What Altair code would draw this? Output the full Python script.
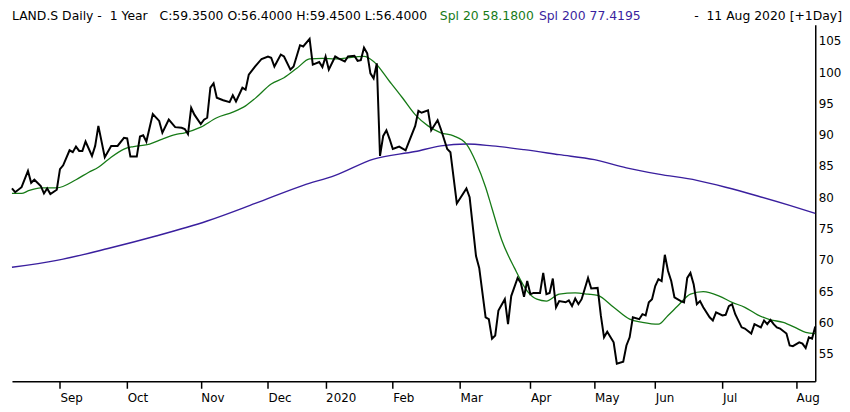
import altair as alt
import pandas as pd

# ---- data (trading-day index, value) ----
close_day = [0, 1, 3, 5, 6, 7, 9, 10, 11, 12, 14, 15, 16, 18, 19, 20, 21, 22, 23, 25, 26, 27, 29, 31, 33,
             35, 36, 37, 39, 40, 41, 42, 44, 46, 47, 49, 51, 53, 54, 55, 56, 57, 59, 60, 61, 62, 63, 64, 66,
             68, 69, 70, 72, 73, 74, 76, 78, 80, 81, 82, 84, 85, 87, 88, 90, 91, 93, 94, 96, 97, 98, 99, 101,
             102, 104, 105, 107, 108, 109, 110, 111, 112, 113, 114, 115, 116, 117, 118, 119, 121, 123, 124,
             126, 127, 128, 130, 131, 133, 134, 136, 137, 139, 140, 142, 143, 145, 146, 148, 149, 150, 151,
             152, 154, 155, 156, 158, 159, 160, 161, 162, 163, 165, 166, 167, 168, 169, 170, 171, 173, 174,
             175, 176, 177, 178, 180, 181, 183, 184, 185, 186, 188, 189, 191, 192, 193, 194, 196, 197, 198,
             199, 200, 201, 202, 203, 204, 205, 206, 207, 209, 210, 211, 212, 213, 214, 215, 216, 218, 219,
             220, 222, 223, 224, 225, 226, 228, 229, 231, 232, 234, 235, 236, 237, 238, 239, 240, 242, 243,
             244, 246, 247, 248, 249, 250, 251]
close_val = [81.4, 80.8, 81.6, 84.2, 82.3, 82.8, 81.8, 80.6, 81.4, 80.5, 81.2, 84.5, 85.1, 87.5, 87.2, 88.1,
             87.4, 87.4, 88.9, 86.6, 88.2, 91.4, 86.4, 88.2, 88.2, 89.5, 89.4, 86.5, 86.5, 89.7, 89.9, 88.9,
             93.3, 92.2, 90.3, 92.4, 91.2, 91.1, 90.9, 90.1, 94.3, 93.2, 91.7, 92.4, 92.7, 97.5, 98.2, 95.9,
             95.5, 95.2, 96.3, 95.3, 97.5, 97.2, 99.6, 100.9, 102.1, 102.5, 102.3, 100.9, 102.8, 102.5, 100.4,
             100.9, 104.3, 104.1, 105.3, 101.2, 101.6, 100.8, 102.5, 100.4, 102.5, 102.2, 101.7, 102.5, 102.6,
             101.8, 101.9, 103.9, 103.0, 99.8, 99.0, 101.4, 86.6, 89.8, 90.7, 89.3, 87.7, 88.1, 87.5, 88.8,
             91.4, 93.8, 93.5, 93.9, 90.7, 92.3, 90.9, 87.7, 87.2, 79.0, 79.8, 81.4, 80.0, 70.6, 68.7, 60.8,
             60.5, 57.4, 57.9, 61.9, 63.7, 59.7, 64.2, 67.1, 66.3, 64.1, 66.6, 64.5, 64.7, 64.7, 67.9, 64.5,
             64.7, 67.0, 62.4, 63.4, 63.2, 63.5, 62.6, 63.8, 62.9, 63.7, 67.1, 65.4, 65.5, 61.1, 57.6, 58.5,
             56.8, 53.4, 53.7, 56.3, 57.6, 60.8, 60.5, 61.3, 61.1, 63.2, 63.7, 65.8, 66.9, 66.6, 70.8, 68.2,
             66.6, 64.0, 63.4, 63.2, 67.1, 67.9, 66.1, 62.9, 63.4, 62.4, 60.8, 60.3, 61.6, 61.1, 61.2, 62.6,
             62.9, 61.3, 59.2, 59.0, 58.2, 59.7, 59.2, 60.3, 59.7, 60.4, 59.7, 59.2, 59.0, 58.2, 56.3, 56.2,
             56.8, 56.6, 55.9, 57.6, 57.4, 59.35]

spl20_day = [0, 3, 5, 9, 14, 20, 24, 27, 30, 35, 38, 43, 47, 51, 54, 59, 64, 69, 73, 76, 81, 85, 89, 93, 97,
             101, 110, 113, 118, 122, 126, 130, 134, 138, 142, 145, 148, 150, 153, 157, 161, 164, 167, 171,
             176, 180, 183, 188, 193, 197, 202, 205, 208, 212, 216, 221, 225, 229, 233, 237, 241, 245, 248, 251]
spl20_val = [80.6, 80.6, 81.0, 81.5, 81.5, 82.8, 84.0, 84.8, 86.0, 87.7, 88.1, 88.5, 89.3, 90.0, 90.3, 91.2,
             92.7, 93.6, 94.6, 95.8, 98.1, 99.1, 100.6, 102.1, 102.2, 102.1, 102.5, 101.7, 98.5, 95.9, 93.2,
             91.4, 90.3, 89.8, 88.5, 85.6, 81.6, 78.2, 73.2, 68.7, 65.0, 63.7, 63.4, 64.5, 64.7, 64.5, 64.3,
             62.4, 60.5, 60.0, 59.7, 61.1, 62.6, 64.5, 64.9, 64.2, 63.2, 62.4, 61.2, 60.4, 60.0, 59.1, 58.4, 58.18]

spl200_day = [0, 14, 30, 45, 61, 76, 91, 101, 113, 126, 134, 142, 150, 160, 171, 182, 192, 202, 214, 223,
              233, 243, 251]
spl200_val = [68.8, 69.9, 71.8, 73.8, 76.2, 79.0, 81.9, 83.5, 86.1, 87.3, 88.2, 88.5, 88.2, 87.6, 86.8,
              86.0, 84.7, 83.7, 82.7, 81.6, 80.2, 78.7, 77.42]

month_ticks = [15, 36, 59, 80, 98, 119, 140, 162, 182, 201, 222, 245]
month_labels = ["Sep", "Oct", "Nov", "Dec", "2020", "Feb", "Mar", "Apr", "May", "Jun", "Jul", "Aug"]
price_ticks = [55, 60, 65, 70, 75, 80, 85, 90, 95, 100, 105]

NB = "\u00a0"
header_main = f"LAND.S Daily -{NB} 1 Year {NB}{NB}C:59.3500 O:56.4000 H:59.4500 L:56.4000"
header_spl20 = "Spl 20 58.1800"
header_spl200 = "Spl 200 77.4195"
header_date = f"-{NB} 11 Aug 2020 [+1Day]"

FONT = "DejaVu Sans"
GREEN = "#167a16"
PURPLE = "#3a1f9e"

price = pd.DataFrame({"day": close_day, "value": close_val})
s20 = pd.DataFrame({"day": spl20_day, "value": spl20_val})
s200 = pd.DataFrame({"day": spl200_day, "value": spl200_val})

labels_js = "[" + ",".join(f"'{m}'" for m in month_labels) + "]"
ticks_js = "[" + ",".join(str(t) for t in month_ticks) + "]"

x_enc = alt.X(
    "day:Q",
    scale=alt.Scale(domain=[0, 251], nice=False, zero=False),
    axis=alt.Axis(
        values=month_ticks,
        labelExpr=f"{labels_js}[indexof({ticks_js}, datum.value)]",
        title=None, grid=False,
        domainColor="black", domainWidth=1.5,
        tickColor="black", tickWidth=1.5, tickSize=7,
        labelAlign="left", labelBaseline="top", labelPadding=4,
        labelFont=FONT, labelFontSize=12, labelColor="black",
        labelFlush=False, labelOverlap=False,
    ),
)
y_enc = alt.Y(
    "value:Q",
    scale=alt.Scale(domain=[50.57, 107.57], nice=False, zero=False),
    axis=alt.Axis(
        orient="right", values=price_ticks, title=None, grid=False,
        ticks=False, tickSize=0, labelPadding=3,
        domainColor="black", domainWidth=1.5,
        labelFont=FONT, labelFontSize=12, labelColor="black",
        labelOverlap=False,
    ),
)

line_price = alt.Chart(price).mark_line(color="black", strokeWidth=2).encode(x=x_enc, y=y_enc)
line_s20 = alt.Chart(s20).mark_line(color=GREEN, strokeWidth=1.3, interpolate="monotone").encode(x=x_enc, y=y_enc)
line_s200 = alt.Chart(s200).mark_line(color=PURPLE, strokeWidth=1.4, interpolate="monotone").encode(x=x_enc, y=y_enc)


def header(txt, color, xpos, align):
    return alt.Chart(pd.DataFrame({"t": [txt]})).mark_text(
        font=FONT, fontSize=12.5, color=color, align=align, baseline="middle"
    ).encode(text="t:N", x=alt.value(xpos), y=alt.value(-8.5))


chart = alt.layer(
    line_s200, line_s20, line_price,
    header(header_main, "black", 0, "left"),
    header(header_spl20, GREEN, 432, "left"),
    header(header_spl200, PURPLE, 532, "left"),
    header(header_date, "black", 838, "right"),
).properties(width=811, height=360, padding=0, background="white").configure_view(strokeWidth=0)

chart.save("out.html", embed_options={"renderer": "svg", "actions": False})
